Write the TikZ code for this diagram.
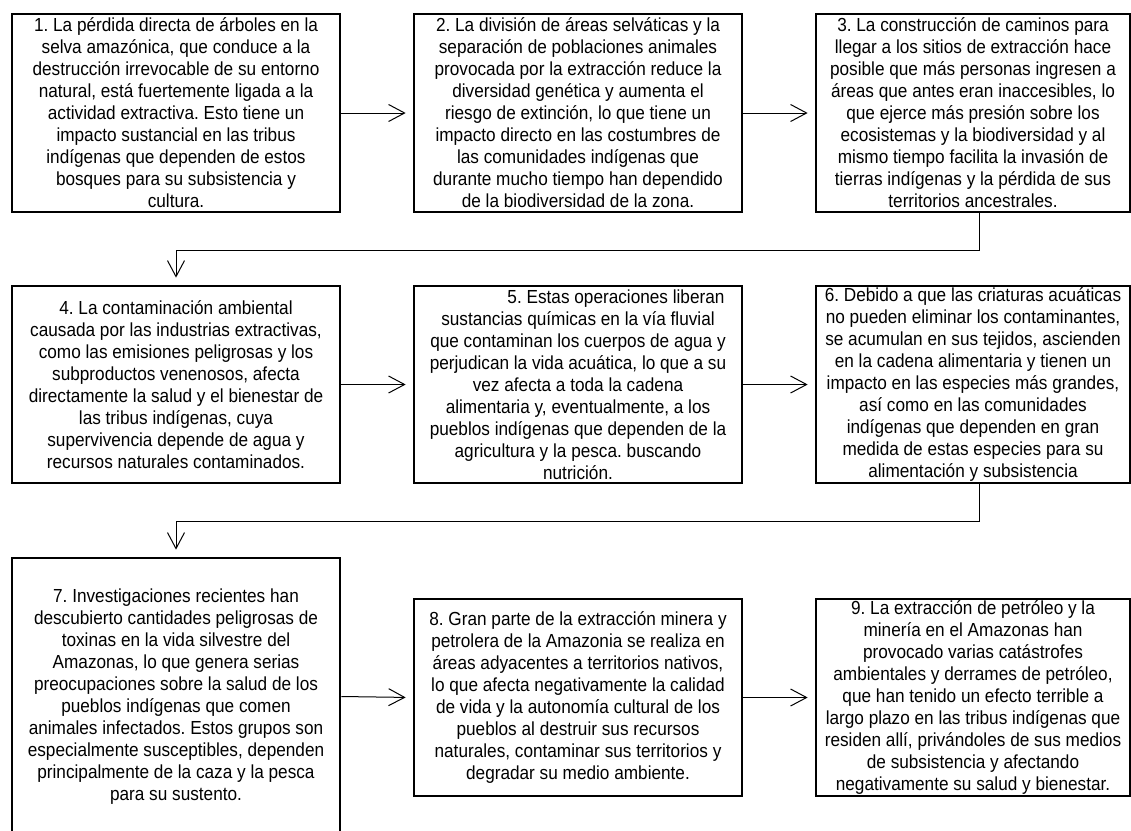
\documentclass[tikz,border=0pt]{standalone}
\usepackage{fontspec}
\setmainfont{Liberation Sans}[FakeStretch=0.91]
\usetikzlibrary{arrows.meta}
\begin{document}
\frenchspacing
\begin{tikzpicture}[x=1pt,y=-1pt,
  paso/.style={draw,line width=2.7pt,inner sep=0pt,align=center,
    minimum width=328pt,minimum height=198pt,
    font=\fontsize{18.9}{22}\selectfont},
  conn/.style={line width=1pt,-{Straight Barb[length=16pt,width=17pt]},shorten >=7pt}]
\clip (0,0) rectangle (1131,830);   % page
\fill[white] (0,0) rectangle (1131,830);
% fila 1
\node[paso] (b1) at (176,113) {1. La pérdida directa de árboles en la\\ selva amazónica, que conduce a la\\ destrucción irrevocable de su entorno\\ natural, está fuertemente ligada a la\\ actividad extractiva. Esto tiene un\\ impacto sustancial en las tribus\\ indígenas que dependen de estos\\ bosques para su subsistencia y\\ cultura.};
\node[paso] (b2) at (578,113) {2. La división de áreas selváticas y la\\ separación de poblaciones animales\\ provocada por la extracción reduce la\\ diversidad genética y aumenta el\\ riesgo de extinción, lo que tiene un\\ impacto directo en las costumbres de\\ las comunidades indígenas que\\ durante mucho tiempo han dependido\\ de la biodiversidad de la zona.};
\node[paso,minimum width=314pt] (b3) at (973,113) {3. La construcción de caminos para\\ llegar a los sitios de extracción hace\\ posible que más personas ingresen a\\ áreas que antes eran inaccesibles, lo\\ que ejerce más presión sobre los\\ ecosistemas y la biodiversidad y al\\ mismo tiempo facilita la invasión de\\ tierras indígenas y la pérdida de sus\\ territorios ancestrales.};
% fila 2
\node[paso,minimum height=197pt] (b4) at (176,384.5) {4. La contaminación ambiental\\ causada por las industrias extractivas,\\ como las emisiones peligrosas y los\\ subproductos venenosos, afecta\\ directamente la salud y el bienestar de\\ las tribus indígenas, cuya\\ supervivencia depende de agua y\\ recursos naturales contaminados.};
\node[paso,minimum height=197pt] (b5) at (578,384.5) {\hspace*{76pt}5. Estas operaciones liberan\\ sustancias químicas en la vía fluvial\\ que contaminan los cuerpos de agua y\\ perjudican la vida acuática, lo que a su\\ vez afecta a toda la cadena\\ alimentaria y, eventualmente, a los\\ pueblos indígenas que dependen de la\\ agricultura y la pesca. buscando\\ nutrición.};
\node[paso,minimum width=314pt,minimum height=197pt] (b6) at (973,384.5) {6. Debido a que las criaturas acuáticas\\ no pueden eliminar los contaminantes,\\ se acumulan en sus tejidos, ascienden\\ en la cadena alimentaria y tienen un\\ impacto en las especies más grandes,\\ así como en las comunidades\\ indígenas que dependen en gran\\ medida de estas especies para su\\ alimentación y subsistencia};
% fila 3
\node[paso,minimum height=277pt] (b7) at (176,696.5) {7. Investigaciones recientes han\\ descubierto cantidades peligrosas de\\ toxinas en la vida silvestre del\\ Amazonas, lo que genera serias\\ preocupaciones sobre la salud de los\\ pueblos indígenas que comen\\ animales infectados. Estos grupos son\\ especialmente susceptibles, dependen\\ principalmente de la caza y la pesca\\ para su sustento.};
\node[paso,minimum height=197pt] (b8) at (578,697.5) {8. Gran parte de la extracción minera y\\ petrolera de la Amazonia se realiza en\\ áreas adyacentes a territorios nativos,\\ lo que afecta negativamente la calidad\\ de vida y la autonomía cultural de los\\ pueblos al destruir sus recursos\\ naturales, contaminar sus territorios y\\ degradar su medio ambiente.};
\node[paso,minimum width=314pt,minimum height=197pt] (b9) at (973,697.5) {9. La extracción de petróleo y la\\ minería en el Amazonas han\\ provocado varias catástrofes\\ ambientales y derrames de petróleo,\\ que han tenido un efecto terrible a\\ largo plazo en las tribus indígenas que\\ residen allí, privándoles de sus medios\\ de subsistencia y afectando\\ negativamente su salud y bienestar.};
% flechas
\draw[conn] (b1) -- (b2);
\draw[conn] (b2) -- (b3);
\draw[conn] ([xshift=6pt]b3.south) -- ++(0,37) -| (b4.north);
\draw[conn] (b4) -- (b5);
\draw[conn] (b5) -- (b6);
\draw[conn] ([xshift=6pt]b6.south) -- ++(0,37) -| (b7.north);
\draw[conn] (b7.east) -- (b8.west);
\draw[conn] (b8) -- (b9);
\end{tikzpicture}
\end{document}
